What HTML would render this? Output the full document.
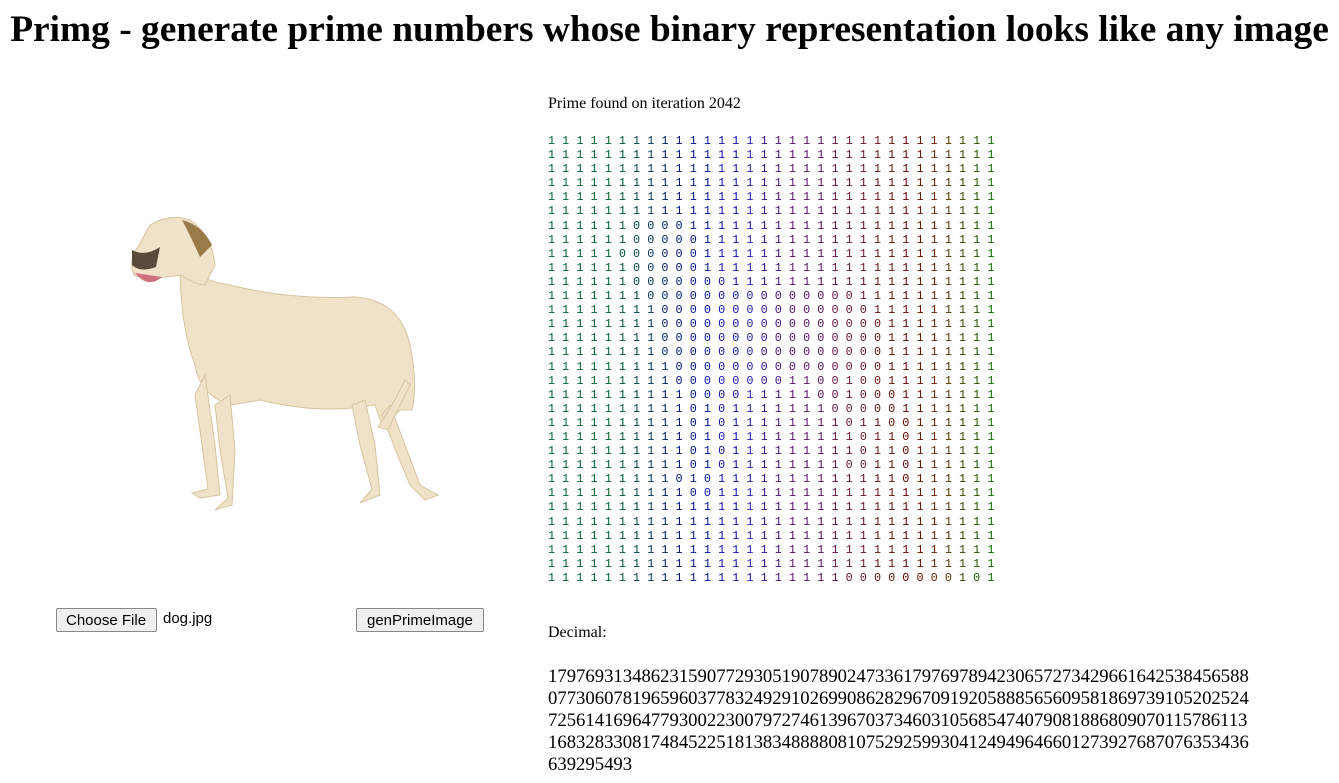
<!DOCTYPE html>
<html><head><meta charset="utf-8">
<style>
body{margin:0;width:1339px;height:783px;background:#fff;position:relative;overflow:hidden;font-family:"Liberation Serif",serif;color:#000}
h1{position:absolute;left:0;width:1339px;top:8px;margin:0;text-align:center;font-size:37.4px;font-weight:bold;white-space:nowrap}
.abs{position:absolute}
#grid{left:548px;top:134px;font-family:"Liberation Mono",monospace;font-size:11.8px;line-height:14.1px;white-space:pre}
button{position:absolute;font-family:"Liberation Sans",sans-serif;font-size:15px;padding:0 9px;height:24px;background:#efefef;border:1px solid #888;border-radius:2px}
#dec{left:548px;top:666px;font-size:18.7px;line-height:22px;white-space:nowrap}
</style></head><body>
<h1>Primg - generate prime numbers whose binary representation looks like any image</h1>
<svg class="abs" style="left:120px;top:205px" width="340" height="320">
<g fill="#efe2c8" stroke="#d8c4a0" stroke-width="1">
<path d="M60 60 Q80 75 110 80 Q170 95 235 92 Q280 95 290 140 Q298 180 292 205 L280 205 Q270 215 262 220 L255 200 Q200 210 140 195 L110 200 Q80 190 75 160 Q60 120 60 60Z"/>
<path d="M85 170 L95 240 L100 290 L80 293 L72 288 L88 284 L82 240 L75 190Z"/>
<path d="M110 190 L115 245 L112 300 L95 305 L108 293 L100 245 L95 200Z"/>
<path d="M245 195 L255 240 L260 290 L240 298 L252 284 L240 240 L232 200Z"/>
<path d="M270 200 Q285 240 300 280 L318 290 L305 295 L290 280 Q275 245 262 210Z"/>
<path d="M290 180 Q275 210 268 225 L258 222 Q270 205 285 175Z"/>
<path d="M30 20 Q50 8 70 15 Q92 30 95 60 L85 80 Q70 78 62 70 L45 72 Q28 76 14 70 Q8 55 18 42 Z"/>
</g>
<path d="M15 68 Q28 84 42 72" fill="#d07080"/>
<path d="M62 15 Q82 20 92 40 L80 52 Q70 30 62 15Z" fill="#9a7a48"/>
<path d="M12 45 Q25 52 40 42 L36 62 Q20 68 12 60Z" fill="#5a4a3a"/>
</svg>
<div class="abs" style="left:548px;top:95px;font-size:16px">Prime found on iteration 2042</div>
<div id="grid" class="abs"></div>
<button style="left:56px;top:608px;padding:0 10px 0 9px">Choose File</button>
<div class="abs" style="left:163px;top:610px;font-family:'Liberation Sans',sans-serif;font-size:15px">dog.jpg</div>
<button style="left:356px;top:608px;padding:0 10px">genPrimeImage</button>
<div class="abs" style="left:548px;top:624px;font-size:16px">Decimal:</div>
<div id="dec" class="abs">179769313486231590772930519078902473361797697894230657273429661642538456588<br>077306078196596037783249291026990862829670919205888565609581869739105202524<br>725614169647793002230079727461396703734603105685474079081886809070115786113<br>168328330817484522518138348888081075292599304124949646601273927687076353436<br>639295493</div>
<script>
const rows=[
"11111111111111111111111111111111","11111111111111111111111111111111","11111111111111111111111111111111",
"11111111111111111111111111111111","11111111111111111111111111111111","11111111111111111111111111111111",
"11111100001111111111111111111111","11111100000111111111111111111111","11111000000111111111111111111111",
"11111100000111111111111111111111","11111100000001111111111111111111","11111110000000000000001111111111",
"11111111000000000000000111111111","11111111000000000000000011111111","11111111000000000000000011111111",
"11111111000000000000000011111111","11111111100000000000000011111111","11111111100000000110010011111111",
"11111111110000111110010001111111","11111111110101111111000001111111","11111111110101111111101100111111",
"11111111110101111111110110111111","11111111110101111111110110111111","11111111110101111111100110111111",
"11111111101011111111111110111111","11111111110011111111111111111111","11111111111111111111111111111111",
"11111111111111111111111111111111","11111111111111111111111111111111","11111111111111111111111111111111",
"11111111111111111111111111111111","11111111111111111111100000000101"];
const colColors=["#063","#063","#063","#063","#063","#053","#044","#035","#026","#017","#018","#019","#11a","#11a","#22a","#318","#417","#516","#516","#515","#614","#613","#612","#611","#610","#600","#610","#620","#530","#340","#250","#160"];
const g=document.getElementById('grid');
rows.forEach(r=>{
  const line=document.createElement('div');
  
  
  r.split('').forEach((c,i)=>{
    const s=document.createElement('span');
    
    
    s.style.color=colColors[i];
    s.textContent=c+(i<31?' ':'');
    line.appendChild(s);
  });
  g.appendChild(line);
});
</script>
</body></html>
